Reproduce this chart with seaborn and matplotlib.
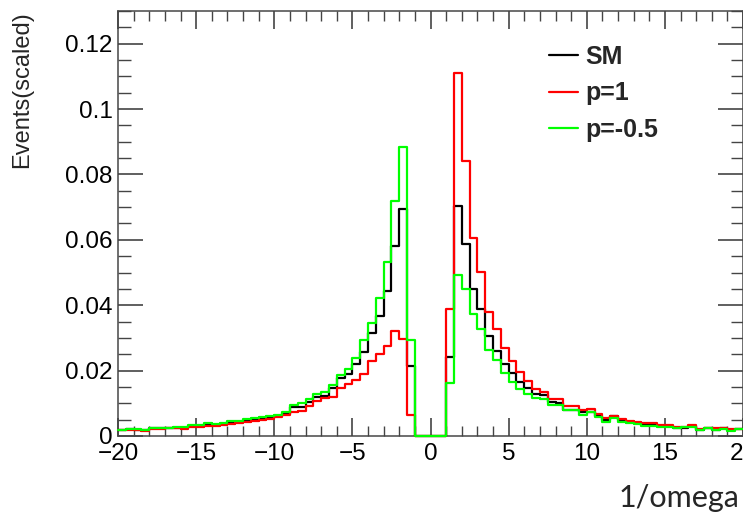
import numpy as np
import pandas as pd
import matplotlib
matplotlib.use("Agg")
import matplotlib.pyplot as plt
from matplotlib.lines import Line2D
from matplotlib.ticker import MultipleLocator, FuncFormatter
import seaborn as sns

# 80 bins of width 0.5 between -20 and 20
bin_edges = np.linspace(-20, 20, 81)
bin_centers = (bin_edges[:-1] + bin_edges[1:]) / 2

sm = [
    0.0019, 0.0020, 0.0019, 0.0017, 0.0023, 0.0023, 0.0024, 0.0026, 0.0024, 0.0030,
    0.0031, 0.0036, 0.0034, 0.0038, 0.0042, 0.0043, 0.0047, 0.0050, 0.0054, 0.0058,
    0.0062, 0.0068, 0.0089, 0.0089, 0.0103, 0.0120, 0.0122, 0.0148, 0.0176, 0.0190,
    0.0220, 0.0258, 0.0314, 0.0366, 0.0444, 0.0582, 0.0694, 0.0215,
    0.0, 0.0, 0.0, 0.0,
    0.0243, 0.0704, 0.0586, 0.0450, 0.0387, 0.0305, 0.0259, 0.0220, 0.0192, 0.0165,
    0.0148, 0.0129, 0.0124,
    0.0103, 0.0102, 0.0081, 0.0081, 0.0072, 0.0074, 0.0060, 0.0050, 0.0062, 0.0050,
    0.0042, 0.0039,
    0.0033, 0.0033, 0.0030, 0.0030, 0.0025, 0.0024, 0.0030, 0.0019, 0.0024, 0.0019,
    0.0023, 0.0017, 0.0020,
]
p1 = [
    0.0019, 0.0018, 0.0017, 0.0014, 0.0021, 0.0022, 0.0023, 0.0024, 0.0021, 0.0028,
    0.0029, 0.0032, 0.0030, 0.0034, 0.0038, 0.0040, 0.0043, 0.0046, 0.0050, 0.0053,
    0.0057, 0.0065, 0.0072, 0.0078, 0.0093, 0.0107, 0.0116, 0.0120, 0.0148, 0.0158,
    0.0172, 0.0191, 0.0228, 0.0251, 0.0276, 0.0322, 0.0297, 0.0063,
    0.0, 0.0, 0.0, 0.0,
    0.0390, 0.1110, 0.0842, 0.0607, 0.0502, 0.0378, 0.0326, 0.0270, 0.0228, 0.0196,
    0.0168, 0.0145, 0.0135,
    0.0114, 0.0114, 0.0092, 0.0091, 0.0081, 0.0082, 0.0068, 0.0055, 0.0062, 0.0052,
    0.0045, 0.0044,
    0.0039, 0.0039, 0.0034, 0.0034, 0.0027, 0.0027, 0.0034, 0.0022, 0.0024, 0.0024,
    0.0026, 0.0020, 0.0020,
]
pm05 = [
    0.0019, 0.0021, 0.0021, 0.0019, 0.0024, 0.0024, 0.0025, 0.0028, 0.0027, 0.0033,
    0.0034, 0.0039, 0.0036, 0.0040, 0.0045, 0.0046, 0.0051, 0.0054, 0.0058, 0.0061,
    0.0065, 0.0072, 0.0096, 0.0101, 0.0112, 0.0127, 0.0134, 0.0155, 0.0186, 0.0205,
    0.0239, 0.0295, 0.0347, 0.0421, 0.0533, 0.0719, 0.0883, 0.0295,
    0.0, 0.0, 0.0, 0.0,
    0.0162, 0.0494, 0.0450, 0.0373, 0.0326, 0.0262, 0.0234, 0.0193, 0.0165, 0.0143,
    0.0129, 0.0117, 0.0114,
    0.0095, 0.0095, 0.0079, 0.0079, 0.0065, 0.0072, 0.0058, 0.0044, 0.0055, 0.0044,
    0.0039, 0.0036,
    0.0031, 0.0031, 0.0029, 0.0029, 0.0024, 0.0029, 0.0029, 0.0017, 0.0024, 0.0017,
    0.0021, 0.0015, 0.0020,
]

labels = ["SM", "p=1", "p=-0.5"]
colors = ["#000000", "#ff0000", "#00ff00"]

df = pd.DataFrame({
    "omega": np.tile(bin_centers, 3),
    "events": np.concatenate([sm, p1, pm05]),
    "sample": np.repeat(labels, len(bin_centers)),
})

sns.set_style("ticks")
plt.rcParams["font.family"] = ["Liberation Sans", "DejaVu Sans"]

fig = plt.figure(figsize=(7.43, 5.17), dpi=100)
ax = fig.add_axes([118 / 743, 81 / 517, 625 / 743, 425 / 517])

for lab, col in zip(labels, colors):
    sns.histplot(data=df[df["sample"] == lab], x="omega", weights="events",
                 binwidth=0.5, binrange=(-20, 20), element="step", fill=False,
                 color=col, linewidth=1.6, ax=ax, zorder=3, clip_on=False)

ax.set_xlim(-20, 20)
ax.set_ylim(0, 0.13)
ax.xaxis.set_major_locator(MultipleLocator(5))
ax.xaxis.set_minor_locator(MultipleLocator(1))
ax.yaxis.set_major_locator(MultipleLocator(0.02))
ax.yaxis.set_minor_locator(MultipleLocator(0.005))
ax.yaxis.set_major_formatter(FuncFormatter(lambda v, p: f"{v:g}"))
ax.xaxis.set_major_formatter(FuncFormatter(lambda v, p: f"{v:g}".replace("-", "\u2212")))

ax.tick_params(which="both", direction="in", top=True, right=True,
               colors="#444444", labelcolor="black", labelsize=17.5)
ax.tick_params(axis="x", which="major", length=13, width=1.2, pad=5)
ax.tick_params(axis="x", which="minor", length=7, width=1.0)
ax.tick_params(axis="y", which="major", length=18, width=1.2, pad=4)
ax.tick_params(axis="y", which="minor", length=9, width=1.0)
for s in ax.spines.values():
    s.set_color("#555555")
    s.set_linewidth(1.2)
    s.set_zorder(0.5)

ax.set_ylabel("Events(scaled)", loc="top", fontsize=17)
ax.yaxis.set_label_coords(-0.135, 1.0)
ax.set_xlabel("1/omega", loc="right", fontsize=22, family=["Lato", "DejaVu Sans"])
ax.xaxis.set_label_coords(0.995, -0.112)

handles = [Line2D([], [], color=c, linewidth=1.6) for c in colors]
ax.legend(handles, labels, loc="upper left", bbox_to_anchor=(0.69, 0.92),
          frameon=False, prop={"weight": "bold", "size": 18},
          handlelength=1.15, handletextpad=0.3, labelspacing=0.5,
          borderpad=0, borderaxespad=0)

fig.savefig("out.png", dpi=100)
